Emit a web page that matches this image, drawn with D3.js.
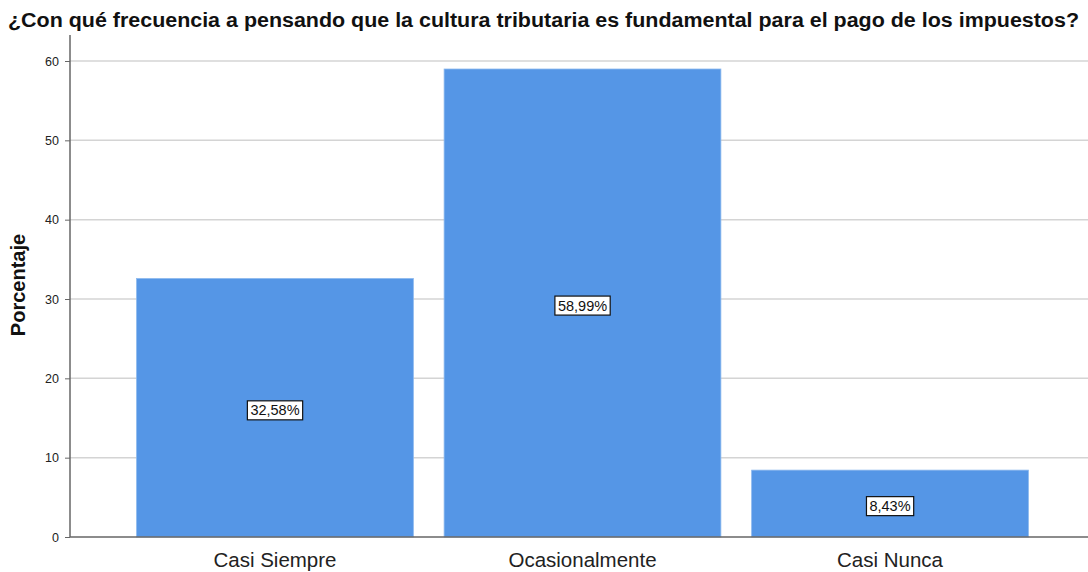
<!DOCTYPE html>
<html><head><meta charset="utf-8">
<script src="https://cdn.jsdelivr.net/npm/d3@7"></script>
<style>body{margin:0;background:#fff;}svg{display:block;font-family:"Liberation Sans",Arial,sans-serif;}</style>
</head><body>
<svg id="c" width="1088" height="572"></svg>
<script>
const categories = ["Casi Siempre", "Ocasionalmente", "Casi Nunca"];
const values = [32.58, 58.99, 8.43];
const labels = ["32,58%", "58,99%", "8,43%"];
const yTicks = [0, 10, 20, 30, 40, 50, 60];
const title = "¿Con qué frecuencia a pensando que la cultura tributaria es fundamental para el pago de los impuestos?";

(function () {
const svg = d3.select("#c");
const mL = 70, mR = 1088, mT = 35, mB = 537;
const y = d3.scaleLinear().domain([0, 60]).range([mB, 61]);
const x = d3.scaleBand().domain(categories).range([72, 1093]).paddingInner(0.1).paddingOuter(0.21);

svg.append("text").attr("x", 8).attr("y", 27)
  .attr("font-size", 19.5).attr("font-weight", "bold").attr("fill", "#111")
  .attr("textLength", 1071).attr("lengthAdjust", "spacingAndGlyphs").text(title);

// grid
svg.append("g").selectAll("line").data(yTicks.filter(d => d > 0)).join("line")
  .attr("x1", mL).attr("x2", mR).attr("y1", d => y(d)).attr("y2", d => y(d))
  .attr("stroke", "#d4d4d4").attr("stroke-width", 1.5);

// bars
svg.append("g").selectAll("rect").data(values).join("rect")
  .attr("x", (d, i) => x(categories[i])).attr("width", x.bandwidth())
  .attr("y", d => y(d)).attr("height", d => mB - y(d))
  .attr("fill", "#5596e6").attr("stroke", "#8cb8ee").attr("stroke-width", 0.8);

// y axis
const ya = svg.append("g").attr("transform", `translate(${mL},0)`)
  .call(d3.axisLeft(y).tickValues(yTicks).tickSize(5).tickPadding(6));
ya.select(".domain").remove();
ya.selectAll("line").attr("stroke", "#666");
ya.selectAll("text").attr("font-size", 12.5).attr("fill", "#222").attr("font-family", "Liberation Sans, Arial, sans-serif");
svg.append("line").attr("x1", mL).attr("x2", mL).attr("y1", mT).attr("y2", mB).attr("stroke", "#666").attr("stroke-width", 1.5);

// x axis
const xa = svg.append("g").attr("transform", `translate(0,${mB})`)
  .call(d3.axisBottom(x).tickSize(0));
xa.select(".domain").remove();
xa.selectAll("text").attr("y", 30).attr("dy", 0).attr("font-size", 20.5).attr("fill", "#222")
  .attr("font-family", "Liberation Sans, Arial, sans-serif");
svg.append("line").attr("x1", mL).attr("x2", mR).attr("y1", mB).attr("y2", mB).attr("stroke", "#666").attr("stroke-width", 1.5);

// y label
svg.append("text").attr("transform", `translate(25,285) rotate(-90)`)
  .attr("text-anchor", "middle").attr("font-size", 20).attr("font-weight", "bold").attr("fill", "#111").text("Porcentaje");

// value labels
const lg = svg.append("g").selectAll("g").data(values).join("g")
  .attr("transform", (d, i) => `translate(${x(categories[i]) + x.bandwidth() / 2},${y(d / 2) + 2.5})`);
lg.append("text").attr("text-anchor", "middle").attr("dy", "0.35em").attr("font-size", 14.5).attr("fill", "#111")
  .text((d, i) => labels[i]);
lg.each(function () {
  const g = d3.select(this);
  const b = g.select("text").node().getBBox();
  g.insert("rect", "text").attr("x", b.x - 3).attr("y", b.y - 1.5).attr("width", b.width + 6).attr("height", b.height + 3)
    .attr("fill", "#fff").attr("stroke", "#111").attr("stroke-width", 1.2);
});
})();
</script>
</body></html>
